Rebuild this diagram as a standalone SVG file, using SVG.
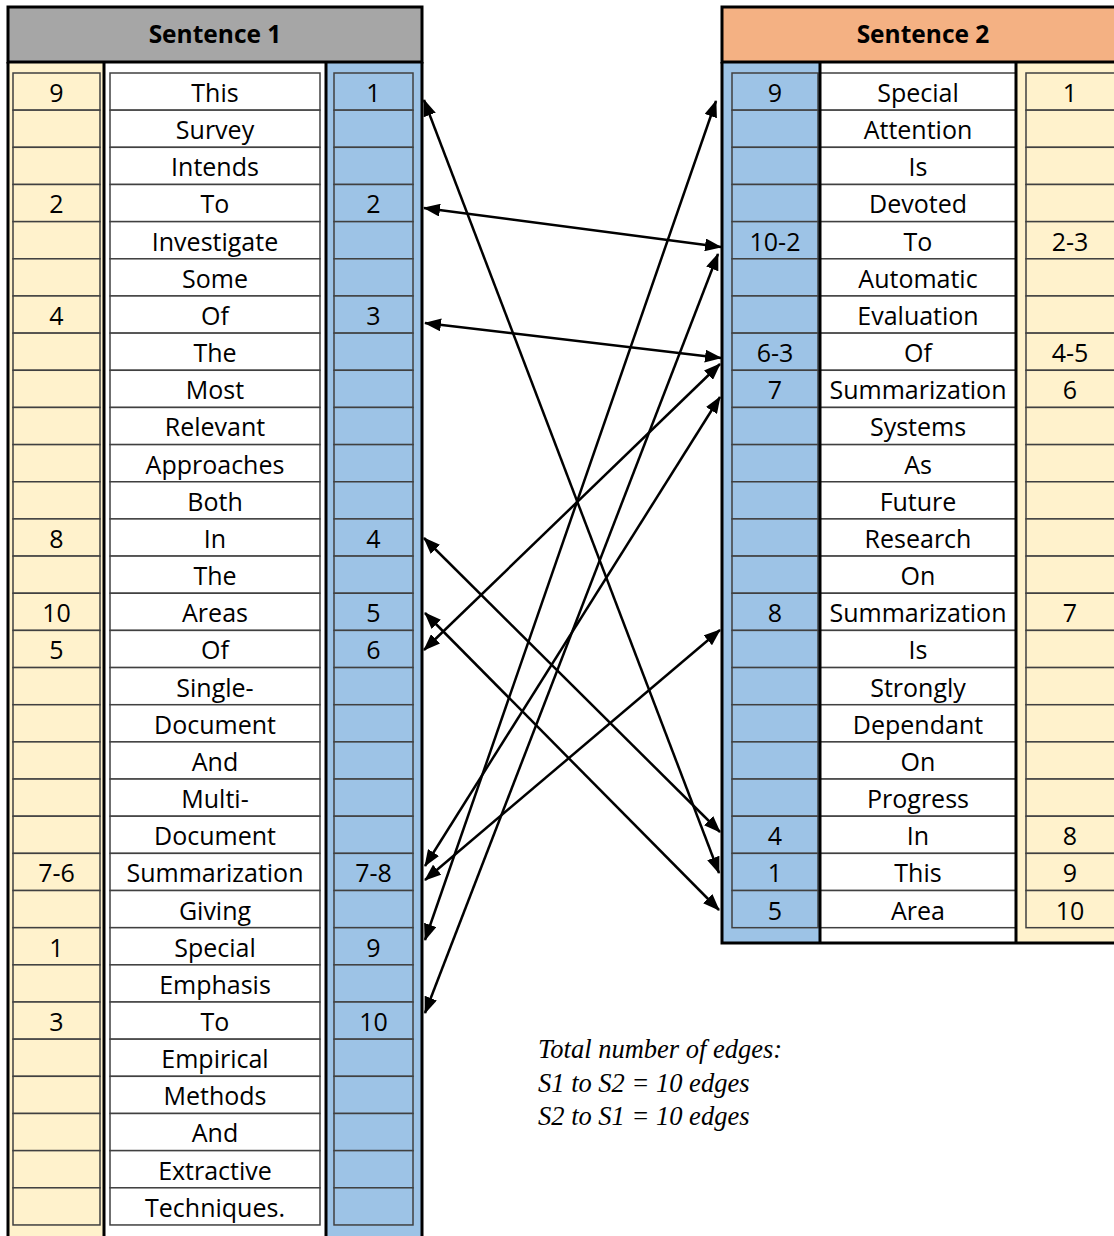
<svg xmlns="http://www.w3.org/2000/svg" xmlns:xlink="http://www.w3.org/1999/xlink" width="1114" height="1236" viewBox="0 0 1114 1236">
<style>
.t{font-family:"Open Sans","Noto Sans",sans-serif;font-size:25px;text-anchor:middle;fill:#000}
.h{font-family:"Open Sans","Noto Sans",sans-serif;font-size:24.5px;font-weight:bold;text-anchor:middle;fill:#000}
.fr{fill:none;stroke:#000;stroke-width:3}
.edge{fill:none;stroke:#000;stroke-width:2.5;marker-start:url(#ah);marker-end:url(#ah)}
.note{font-family:"Liberation Serif","Times New Roman",serif;font-style:italic;font-size:26.5px;fill:#000}
</style>
<defs>
<marker id="ah" viewBox="0 0 17 13" refX="16" refY="6.5" markerWidth="17" markerHeight="13" markerUnits="userSpaceOnUse" orient="auto-start-reverse"><path d="M0,0 L17,6.5 L0,13 z" fill="#000"/></marker>
<rect id="c1y" x="13" y="0" width="87" height="37.16" fill="#FFF2CC" stroke="#404040" stroke-width="1.5"/>
<rect id="c1w" x="110" y="0" width="210" height="37.16" fill="#FFFFFF" stroke="#404040" stroke-width="1.5"/>
<rect id="c1b" x="334" y="0" width="79" height="37.16" fill="#9DC3E6" stroke="#404040" stroke-width="1.5"/>
<rect id="c2b" x="732" y="0" width="86" height="37.16" fill="#9DC3E6" stroke="#404040" stroke-width="1.5"/>
<rect id="c2w" x="820" y="0" width="196" height="37.16" fill="#FFFFFF" stroke="#404040" stroke-width="1.5"/>
<rect id="c2y" x="1026" y="0" width="95" height="37.16" fill="#FFF2CC" stroke="#404040" stroke-width="1.5"/>
</defs>
<rect width="1114" height="1236" fill="#fff"/>

<g id="sentence1">
<rect x="8" y="62" width="96" height="1180" fill="#FFF2CC"/>
<rect x="104" y="62" width="222" height="1180" fill="#FFFFFF"/>
<rect x="326" y="62" width="96" height="1180" fill="#9DC3E6"/>
<g id="s1-r0" transform="translate(0,73)"><use href="#c1y"/><use href="#c1w"/><use href="#c1b"/><text class="t" x="56.5" y="29">9</text><text class="t" x="215" y="29">This</text><text class="t" x="373.5" y="29">1</text></g>
<g id="s1-r1" transform="translate(0,110.16)"><use href="#c1y"/><use href="#c1w"/><use href="#c1b"/><text class="t" x="215" y="29">Survey</text></g>
<g id="s1-r2" transform="translate(0,147.32)"><use href="#c1y"/><use href="#c1w"/><use href="#c1b"/><text class="t" x="215" y="29">Intends</text></g>
<g id="s1-r3" transform="translate(0,184.48)"><use href="#c1y"/><use href="#c1w"/><use href="#c1b"/><text class="t" x="56.5" y="29">2</text><text class="t" x="215" y="29">To</text><text class="t" x="373.5" y="29">2</text></g>
<g id="s1-r4" transform="translate(0,221.64)"><use href="#c1y"/><use href="#c1w"/><use href="#c1b"/><text class="t" x="215" y="29">Investigate</text></g>
<g id="s1-r5" transform="translate(0,258.8)"><use href="#c1y"/><use href="#c1w"/><use href="#c1b"/><text class="t" x="215" y="29">Some</text></g>
<g id="s1-r6" transform="translate(0,295.96)"><use href="#c1y"/><use href="#c1w"/><use href="#c1b"/><text class="t" x="56.5" y="29">4</text><text class="t" x="215" y="29">Of</text><text class="t" x="373.5" y="29">3</text></g>
<g id="s1-r7" transform="translate(0,333.12)"><use href="#c1y"/><use href="#c1w"/><use href="#c1b"/><text class="t" x="215" y="29">The</text></g>
<g id="s1-r8" transform="translate(0,370.28)"><use href="#c1y"/><use href="#c1w"/><use href="#c1b"/><text class="t" x="215" y="29">Most</text></g>
<g id="s1-r9" transform="translate(0,407.44)"><use href="#c1y"/><use href="#c1w"/><use href="#c1b"/><text class="t" x="215" y="29">Relevant</text></g>
<g id="s1-r10" transform="translate(0,444.6)"><use href="#c1y"/><use href="#c1w"/><use href="#c1b"/><text class="t" x="215" y="29">Approaches</text></g>
<g id="s1-r11" transform="translate(0,481.76)"><use href="#c1y"/><use href="#c1w"/><use href="#c1b"/><text class="t" x="215" y="29">Both</text></g>
<g id="s1-r12" transform="translate(0,518.92)"><use href="#c1y"/><use href="#c1w"/><use href="#c1b"/><text class="t" x="56.5" y="29">8</text><text class="t" x="215" y="29">In</text><text class="t" x="373.5" y="29">4</text></g>
<g id="s1-r13" transform="translate(0,556.08)"><use href="#c1y"/><use href="#c1w"/><use href="#c1b"/><text class="t" x="215" y="29">The</text></g>
<g id="s1-r14" transform="translate(0,593.24)"><use href="#c1y"/><use href="#c1w"/><use href="#c1b"/><text class="t" x="56.5" y="29">10</text><text class="t" x="215" y="29">Areas</text><text class="t" x="373.5" y="29">5</text></g>
<g id="s1-r15" transform="translate(0,630.4)"><use href="#c1y"/><use href="#c1w"/><use href="#c1b"/><text class="t" x="56.5" y="29">5</text><text class="t" x="215" y="29">Of</text><text class="t" x="373.5" y="29">6</text></g>
<g id="s1-r16" transform="translate(0,667.56)"><use href="#c1y"/><use href="#c1w"/><use href="#c1b"/><text class="t" x="215" y="29">Single-</text></g>
<g id="s1-r17" transform="translate(0,704.72)"><use href="#c1y"/><use href="#c1w"/><use href="#c1b"/><text class="t" x="215" y="29">Document</text></g>
<g id="s1-r18" transform="translate(0,741.88)"><use href="#c1y"/><use href="#c1w"/><use href="#c1b"/><text class="t" x="215" y="29">And</text></g>
<g id="s1-r19" transform="translate(0,779.04)"><use href="#c1y"/><use href="#c1w"/><use href="#c1b"/><text class="t" x="215" y="29">Multi-</text></g>
<g id="s1-r20" transform="translate(0,816.2)"><use href="#c1y"/><use href="#c1w"/><use href="#c1b"/><text class="t" x="215" y="29">Document</text></g>
<g id="s1-r21" transform="translate(0,853.36)"><use href="#c1y"/><use href="#c1w"/><use href="#c1b"/><text class="t" x="56.5" y="29">7-6</text><text class="t" x="215" y="29">Summarization</text><text class="t" x="373.5" y="29">7-8</text></g>
<g id="s1-r22" transform="translate(0,890.52)"><use href="#c1y"/><use href="#c1w"/><use href="#c1b"/><text class="t" x="215" y="29">Giving</text></g>
<g id="s1-r23" transform="translate(0,927.68)"><use href="#c1y"/><use href="#c1w"/><use href="#c1b"/><text class="t" x="56.5" y="29">1</text><text class="t" x="215" y="29">Special</text><text class="t" x="373.5" y="29">9</text></g>
<g id="s1-r24" transform="translate(0,964.84)"><use href="#c1y"/><use href="#c1w"/><use href="#c1b"/><text class="t" x="215" y="29">Emphasis</text></g>
<g id="s1-r25" transform="translate(0,1002)"><use href="#c1y"/><use href="#c1w"/><use href="#c1b"/><text class="t" x="56.5" y="29">3</text><text class="t" x="215" y="29">To</text><text class="t" x="373.5" y="29">10</text></g>
<g id="s1-r26" transform="translate(0,1039.16)"><use href="#c1y"/><use href="#c1w"/><use href="#c1b"/><text class="t" x="215" y="29">Empirical</text></g>
<g id="s1-r27" transform="translate(0,1076.32)"><use href="#c1y"/><use href="#c1w"/><use href="#c1b"/><text class="t" x="215" y="29">Methods</text></g>
<g id="s1-r28" transform="translate(0,1113.48)"><use href="#c1y"/><use href="#c1w"/><use href="#c1b"/><text class="t" x="215" y="29">And</text></g>
<g id="s1-r29" transform="translate(0,1150.64)"><use href="#c1y"/><use href="#c1w"/><use href="#c1b"/><text class="t" x="215" y="29">Extractive</text></g>
<g id="s1-r30" transform="translate(0,1187.8)"><use href="#c1y"/><use href="#c1w"/><use href="#c1b"/><text class="t" x="215" y="29">Techniques.</text></g>
<path class="fr" d="M8,62 V1242 M104,62 V1242 M326,62 V1242 M422,62 V1242"/>
<g id="s1-header"><rect x="8" y="7" width="414" height="55" fill="#A6A6A6" stroke="#000" stroke-width="3"/><text class="h" x="215" y="43">Sentence 1</text></g>
</g>

<g id="sentence2">
<rect x="722" y="62" width="98" height="881" fill="#9DC3E6"/>
<rect x="820" y="62" width="196" height="881" fill="#FFFFFF"/>
<rect x="1016" y="62" width="109" height="881" fill="#FFF2CC"/>
<g id="s2-r0" transform="translate(0,73)"><use href="#c2b"/><use href="#c2w"/><use href="#c2y"/><text class="t" x="775" y="29">9</text><text class="t" x="918" y="29">Special</text><text class="t" x="1070" y="29">1</text></g>
<g id="s2-r1" transform="translate(0,110.16)"><use href="#c2b"/><use href="#c2w"/><use href="#c2y"/><text class="t" x="918" y="29">Attention</text></g>
<g id="s2-r2" transform="translate(0,147.32)"><use href="#c2b"/><use href="#c2w"/><use href="#c2y"/><text class="t" x="918" y="29">Is</text></g>
<g id="s2-r3" transform="translate(0,184.48)"><use href="#c2b"/><use href="#c2w"/><use href="#c2y"/><text class="t" x="918" y="29">Devoted</text></g>
<g id="s2-r4" transform="translate(0,221.64)"><use href="#c2b"/><use href="#c2w"/><use href="#c2y"/><text class="t" x="775" y="29">10-2</text><text class="t" x="918" y="29">To</text><text class="t" x="1070" y="29">2-3</text></g>
<g id="s2-r5" transform="translate(0,258.8)"><use href="#c2b"/><use href="#c2w"/><use href="#c2y"/><text class="t" x="918" y="29">Automatic</text></g>
<g id="s2-r6" transform="translate(0,295.96)"><use href="#c2b"/><use href="#c2w"/><use href="#c2y"/><text class="t" x="918" y="29">Evaluation</text></g>
<g id="s2-r7" transform="translate(0,333.12)"><use href="#c2b"/><use href="#c2w"/><use href="#c2y"/><text class="t" x="775" y="29">6-3</text><text class="t" x="918" y="29">Of</text><text class="t" x="1070" y="29">4-5</text></g>
<g id="s2-r8" transform="translate(0,370.28)"><use href="#c2b"/><use href="#c2w"/><use href="#c2y"/><text class="t" x="775" y="29">7</text><text class="t" x="918" y="29">Summarization</text><text class="t" x="1070" y="29">6</text></g>
<g id="s2-r9" transform="translate(0,407.44)"><use href="#c2b"/><use href="#c2w"/><use href="#c2y"/><text class="t" x="918" y="29">Systems</text></g>
<g id="s2-r10" transform="translate(0,444.6)"><use href="#c2b"/><use href="#c2w"/><use href="#c2y"/><text class="t" x="918" y="29">As</text></g>
<g id="s2-r11" transform="translate(0,481.76)"><use href="#c2b"/><use href="#c2w"/><use href="#c2y"/><text class="t" x="918" y="29">Future</text></g>
<g id="s2-r12" transform="translate(0,518.92)"><use href="#c2b"/><use href="#c2w"/><use href="#c2y"/><text class="t" x="918" y="29">Research</text></g>
<g id="s2-r13" transform="translate(0,556.08)"><use href="#c2b"/><use href="#c2w"/><use href="#c2y"/><text class="t" x="918" y="29">On</text></g>
<g id="s2-r14" transform="translate(0,593.24)"><use href="#c2b"/><use href="#c2w"/><use href="#c2y"/><text class="t" x="775" y="29">8</text><text class="t" x="918" y="29">Summarization</text><text class="t" x="1070" y="29">7</text></g>
<g id="s2-r15" transform="translate(0,630.4)"><use href="#c2b"/><use href="#c2w"/><use href="#c2y"/><text class="t" x="918" y="29">Is</text></g>
<g id="s2-r16" transform="translate(0,667.56)"><use href="#c2b"/><use href="#c2w"/><use href="#c2y"/><text class="t" x="918" y="29">Strongly</text></g>
<g id="s2-r17" transform="translate(0,704.72)"><use href="#c2b"/><use href="#c2w"/><use href="#c2y"/><text class="t" x="918" y="29">Dependant</text></g>
<g id="s2-r18" transform="translate(0,741.88)"><use href="#c2b"/><use href="#c2w"/><use href="#c2y"/><text class="t" x="918" y="29">On</text></g>
<g id="s2-r19" transform="translate(0,779.04)"><use href="#c2b"/><use href="#c2w"/><use href="#c2y"/><text class="t" x="918" y="29">Progress</text></g>
<g id="s2-r20" transform="translate(0,816.2)"><use href="#c2b"/><use href="#c2w"/><use href="#c2y"/><text class="t" x="775" y="29">4</text><text class="t" x="918" y="29">In</text><text class="t" x="1070" y="29">8</text></g>
<g id="s2-r21" transform="translate(0,853.36)"><use href="#c2b"/><use href="#c2w"/><use href="#c2y"/><text class="t" x="775" y="29">1</text><text class="t" x="918" y="29">This</text><text class="t" x="1070" y="29">9</text></g>
<g id="s2-r22" transform="translate(0,890.52)"><use href="#c2b"/><use href="#c2w"/><use href="#c2y"/><text class="t" x="775" y="29">5</text><text class="t" x="918" y="29">Area</text><text class="t" x="1070" y="29">10</text></g>
<path class="fr" d="M722,62 V943 H1125 M820,62 V943 M1016,62 V943"/>
<g id="s2-header"><rect x="722" y="7" width="403" height="55" fill="#F4B183" stroke="#000" stroke-width="3"/><text class="h" x="923" y="43">Sentence 2</text></g>
</g>

<g id="connectors">
<line class="edge" x1="424" y1="100" x2="719" y2="873"/>
<line class="edge" x1="424" y1="208" x2="721" y2="247"/>
<line class="edge" x1="425" y1="323" x2="721" y2="358"/>
<line class="edge" x1="424" y1="538" x2="720" y2="832"/>
<line class="edge" x1="425" y1="613" x2="719" y2="910"/>
<line class="edge" x1="424" y1="650" x2="720" y2="364"/>
<line class="edge" x1="425" y1="866" x2="720" y2="397"/>
<line class="edge" x1="425" y1="880" x2="720" y2="630"/>
<line class="edge" x1="425" y1="940" x2="716" y2="101"/>
<line class="edge" x1="425" y1="1013" x2="718" y2="254"/>
</g>

<g id="note">
<text class="note" x="538" y="1058">Total number of edges:</text>
<text class="note" x="538" y="1092">S1 to S2 = 10 edges</text>
<text class="note" x="538" y="1125">S2 to S1 = 10 edges</text>
</g>
</svg>
